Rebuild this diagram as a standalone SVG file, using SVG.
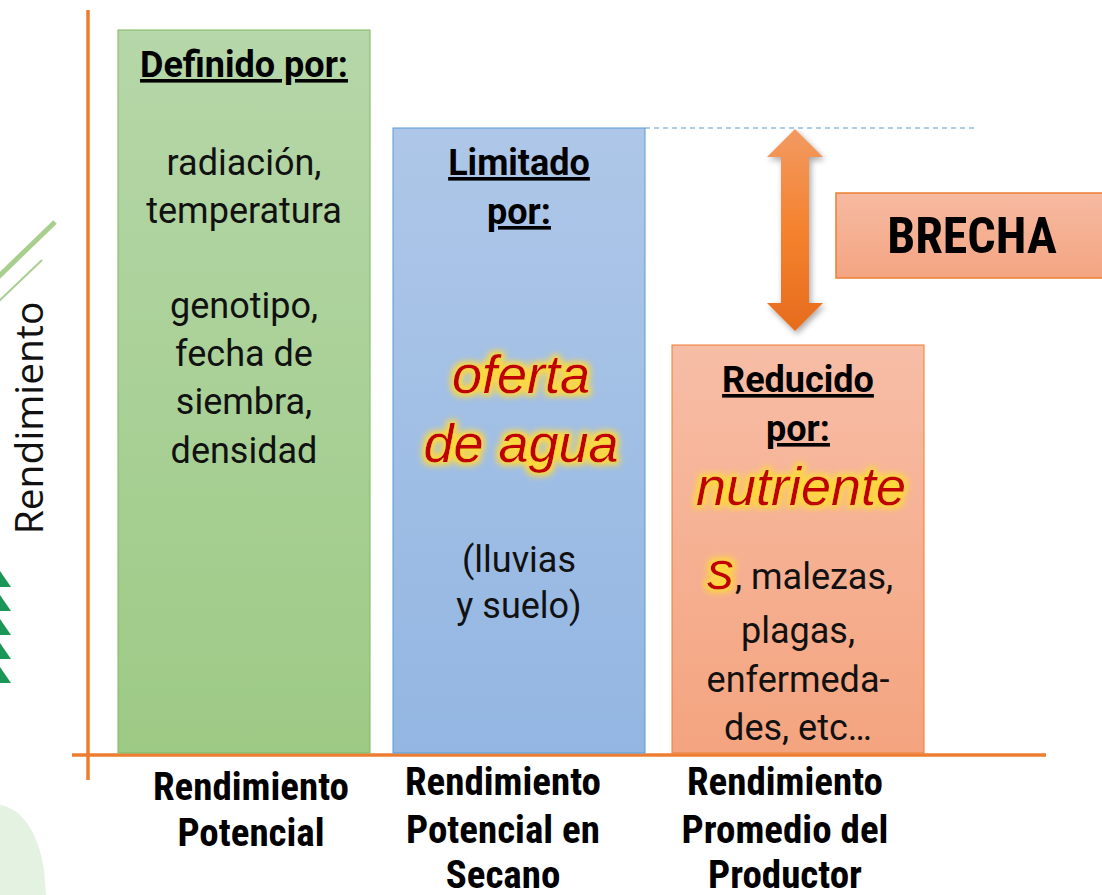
<svg xmlns="http://www.w3.org/2000/svg" width="1102" height="895" viewBox="0 0 1102 895">
  <style>
    .reg { font-family: Roboto, "Liberation Sans", sans-serif; font-size: 36px; fill: #111; text-anchor: middle; }
    .hd { font-family: Roboto, "Liberation Sans", sans-serif; font-size: 36px; font-weight: bold; fill: #000; text-anchor: middle; text-decoration: underline; }
    .lab { font-family: Roboto, "Liberation Sans", sans-serif; font-stretch: 87.5%; font-size: 39px; font-weight: bold; fill: #000; text-anchor: middle; }
    .red { font-family: "Liberation Sans", Arial, sans-serif; font-style: italic; font-size: 54px; fill: #c00000; }
    .axis { stroke: #ed7d31; stroke-width: 3.5; fill: none; }
  </style>
  <defs>
    <linearGradient id="gG" x1="0" y1="0" x2="0" y2="1">
      <stop offset="0" stop-color="#b6d7a9"/>
      <stop offset="1" stop-color="#9dca85"/>
    </linearGradient>
    <linearGradient id="gB" x1="0" y1="0" x2="0" y2="1">
      <stop offset="0" stop-color="#aec7e8"/>
      <stop offset="1" stop-color="#93b6e2"/>
    </linearGradient>
    <linearGradient id="gO" x1="0" y1="0" x2="0" y2="1">
      <stop offset="0" stop-color="#f7bda6"/>
      <stop offset="1" stop-color="#f4a47f"/>
    </linearGradient>
    <linearGradient id="gBr" x1="0" y1="0" x2="0" y2="1">
      <stop offset="0" stop-color="#f6baa1"/>
      <stop offset="1" stop-color="#f4a582"/>
    </linearGradient>
    <linearGradient id="gA" x1="0" y1="0" x2="0" y2="1">
      <stop offset="0" stop-color="#f29a62"/>
      <stop offset="0.5" stop-color="#f5822e"/>
      <stop offset="1" stop-color="#e66c1d"/>
    </linearGradient>
    <filter id="glow" x="-20%" y="-40%" width="140%" height="180%">
      <feMorphology in="SourceAlpha" operator="dilate" radius="3" result="d"/>
      <feGaussianBlur in="d" stdDeviation="3" result="b"/>
      <feFlood flood-color="#ffd93a" flood-opacity="1"/>
      <feComposite in2="b" operator="in" result="g"/>
      <feMerge><feMergeNode in="g"/><feMergeNode in="SourceGraphic"/></feMerge>
    </filter>
    <filter id="shadow" x="-50%" y="-10%" width="200%" height="120%">
      <feGaussianBlur in="SourceAlpha" stdDeviation="3"/>
      <feOffset dx="2" dy="3" result="o"/>
      <feComponentTransfer><feFuncA type="linear" slope="0.35"/></feComponentTransfer>
      <feMerge><feMergeNode/><feMergeNode in="SourceGraphic"/></feMerge>
    </filter>
  </defs>

  <rect width="1102" height="895" fill="#ffffff"/>

  <!-- decorative left -->
  <g id="decor">
    <line x1="-5" y1="280" x2="55" y2="222" stroke="#a8cf8e" stroke-width="5"/>
    <line x1="-5" y1="305" x2="42" y2="260" stroke="#a8cf8e" stroke-width="2"/>
    <g fill="#1a9656">
      <polygon points="0,571 11,587 0,587"/>
      <polygon points="0,595 11,611 0,611"/>
      <polygon points="0,619 11,635 0,635"/>
      <polygon points="0,643 11,659 0,659"/>
      <polygon points="0,667 11,683 0,683"/>
    </g>
    <path d="M0,805 C20,808 38,830 44,870 L46,895 L0,895 Z" fill="#e4f2e1"/>
  </g>

  <!-- axes -->
  <g id="axes">
    <line class="axis" x1="88" y1="10" x2="88" y2="780"/>
    <line class="axis" x1="72" y1="755" x2="1046" y2="755"/>
  </g>

  <text transform="translate(43,418) rotate(-90)" font-family="'Open Sans', 'Noto Sans', sans-serif" font-weight="400" font-size="39" fill="#111" text-anchor="middle">Rendimiento</text>

  <!-- node: potencial -->
  <g id="node-potencial">
    <rect x="118" y="30" width="252" height="723" fill="url(#gG)" stroke="#7fb65e" stroke-width="1"/>
    <text class="hd" x="244" y="77">Definido por:</text>
    <text class="reg" x="244" y="175">radiación,</text>
    <text class="reg" x="244" y="223">temperatura</text>
    <text class="reg" x="244" y="318">genotipo,</text>
    <text class="reg" x="244" y="366">fecha de</text>
    <text class="reg" x="244" y="414">siembra,</text>
    <text class="reg" x="244" y="463">densidad</text>
    <text class="lab" x="251" y="800">Rendimiento</text>
    <text class="lab" x="251" y="846">Potencial</text>
  </g>

  <!-- node: secano -->
  <g id="node-secano">
    <rect x="393" y="128" width="252" height="625" fill="url(#gB)" stroke="#5b9bd5" stroke-width="1"/>
    <text class="hd" x="519" y="175">Limitado</text>
    <text class="hd" x="519" y="224">por:</text>
    <text class="red" x="521" y="393" text-anchor="middle" filter="url(#glow)">oferta</text>
    <text class="red" x="521" y="462" text-anchor="middle" filter="url(#glow)">de agua</text>
    <text class="reg" x="519" y="572">(lluvias</text>
    <text class="reg" x="519" y="618">y suelo)</text>
    <text class="lab" x="503" y="795">Rendimiento</text>
    <text class="lab" x="503" y="843">Potencial en</text>
    <text class="lab" x="503" y="888">Secano</text>
  </g>

  <!-- node: productor -->
  <g id="node-productor">
    <rect x="672" y="345" width="252" height="408" fill="url(#gO)" stroke="#ed7d31" stroke-width="1"/>
    <text class="hd" x="798" y="392">Reducido</text>
    <text class="hd" x="798" y="441">por:</text>
    <text class="red" x="801" y="505" text-anchor="middle" filter="url(#glow)">nutriente</text>
    <text class="red" x="707" y="589" filter="url(#glow)">s</text>
    <text class="reg" x="735" y="589" style="text-anchor:start">, malezas,</text>
    <text class="reg" x="798" y="643">plagas,</text>
    <text class="reg" x="798" y="692">enfermeda-</text>
    <text class="reg" x="798" y="740">des, etc…</text>
    <text class="lab" x="785" y="795">Rendimiento</text>
    <text class="lab" x="785" y="843">Promedio del</text>
    <text class="lab" x="785" y="888">Productor</text>
  </g>

  <!-- node: brecha -->
  <g id="node-brecha">
    <rect x="836" y="193" width="280" height="85" fill="url(#gBr)" stroke="#ed7d31" stroke-width="1.5"/>
    <text class="lab" x="972" y="253" style="font-size:50px">BRECHA</text>
  </g>

  <!-- connectors -->
  <g id="connectors">
    <line x1="645" y1="128" x2="977" y2="128" stroke="#5b9bd5" stroke-width="1" stroke-dasharray="5,4"/>
    <polygon filter="url(#shadow)" fill="url(#gA)" points="795,129 823,157 809,157 809,303 823,303 795,331 767,303 781,303 781,157 767,157"/>
  </g>
</svg>
